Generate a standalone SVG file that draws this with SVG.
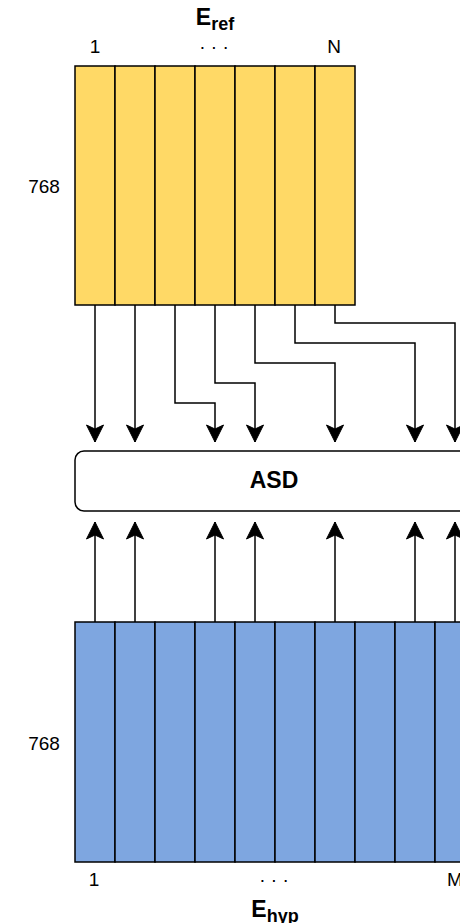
<svg xmlns="http://www.w3.org/2000/svg" width="460" height="923" viewBox="0 0 460 923">
<style>
.lbl{font-family:"Liberation Sans",Arial,sans-serif;font-size:19px;fill:#000;text-anchor:middle}
.bold{font-weight:bold}
.col{stroke:#000;stroke-width:1.5}
.yel{fill:#FFD966}
.blu{fill:#7EA6E0}
.edge{fill:none;stroke:#000;stroke-width:1.5}
</style>
<defs>
<marker id="arr" markerUnits="userSpaceOnUse" markerWidth="20" markerHeight="20" viewBox="-18 -10 20 20" refX="0" refY="0" orient="auto">
<path d="M0,0 L-17,-8.5 L-13,0 L-17,8.5 Z" fill="#000" stroke="#000" stroke-width="1"/>
</marker>
</defs>
<rect width="460" height="923" fill="#fff"/>
<g id="eref">
<rect class="col yel" x="75" y="66" width="40" height="239"/>
<rect class="col yel" x="115" y="66" width="40" height="239"/>
<rect class="col yel" x="155" y="66" width="40" height="239"/>
<rect class="col yel" x="195" y="66" width="40" height="239"/>
<rect class="col yel" x="235" y="66" width="40" height="239"/>
<rect class="col yel" x="275" y="66" width="40" height="239"/>
<rect class="col yel" x="315" y="66" width="40" height="239"/>
</g>
<g id="eref-labels">
<text class="lbl bold" x="215" y="25"><tspan font-size="23">E</tspan><tspan font-size="18" dy="5">ref</tspan></text>
<text class="lbl" x="95" y="53">1</text>
<text class="lbl" x="214" y="53">· · ·</text>
<text class="lbl" x="334" y="53">N</text>
<text class="lbl" x="44" y="193">768</text>
</g>
<g id="ehyp">
<rect class="col blu" x="75" y="622" width="40" height="240"/>
<rect class="col blu" x="115" y="622" width="40" height="240"/>
<rect class="col blu" x="155" y="622" width="40" height="240"/>
<rect class="col blu" x="195" y="622" width="40" height="240"/>
<rect class="col blu" x="235" y="622" width="40" height="240"/>
<rect class="col blu" x="275" y="622" width="40" height="240"/>
<rect class="col blu" x="315" y="622" width="40" height="240"/>
<rect class="col blu" x="355" y="622" width="40" height="240"/>
<rect class="col blu" x="395" y="622" width="40" height="240"/>
<rect class="col blu" x="435" y="622" width="40" height="240"/>
</g>
<g id="ehyp-labels">
<text class="lbl" x="94" y="886">1</text>
<text class="lbl" x="274" y="886">· · ·</text>
<text class="lbl" x="455" y="886">M</text>
<text class="lbl" x="44" y="750">768</text>
<text class="lbl bold" x="275" y="917"><tspan font-size="23">E</tspan><tspan font-size="18" dy="5">hyp</tspan></text>
</g>
<g id="asd">
<rect x="75" y="451" width="400" height="60" rx="9" ry="9" fill="#fff" stroke="#000" stroke-width="1.5"/>
<text class="lbl bold" x="274" y="488" style="font-size:23px">ASD</text>
</g>
<g id="connectors">
<path class="edge" marker-end="url(#arr)" d="M95,305 V442"/>
<path class="edge" marker-end="url(#arr)" d="M135,305 V442"/>
<path class="edge" marker-end="url(#arr)" d="M175,305 V403 H215 V442"/>
<path class="edge" marker-end="url(#arr)" d="M215,305 V383 H255 V442"/>
<path class="edge" marker-end="url(#arr)" d="M255,305 V363 H335 V442"/>
<path class="edge" marker-end="url(#arr)" d="M295,305 V343 H415 V442"/>
<path class="edge" marker-end="url(#arr)" d="M335,305 V323 H455 V442"/>
<path class="edge" marker-end="url(#arr)" d="M95,622 V522"/>
<path class="edge" marker-end="url(#arr)" d="M135,622 V522"/>
<path class="edge" marker-end="url(#arr)" d="M215,622 V522"/>
<path class="edge" marker-end="url(#arr)" d="M255,622 V522"/>
<path class="edge" marker-end="url(#arr)" d="M335,622 V522"/>
<path class="edge" marker-end="url(#arr)" d="M415,622 V522"/>
<path class="edge" marker-end="url(#arr)" d="M455,622 V522"/>
</g>
</svg>
